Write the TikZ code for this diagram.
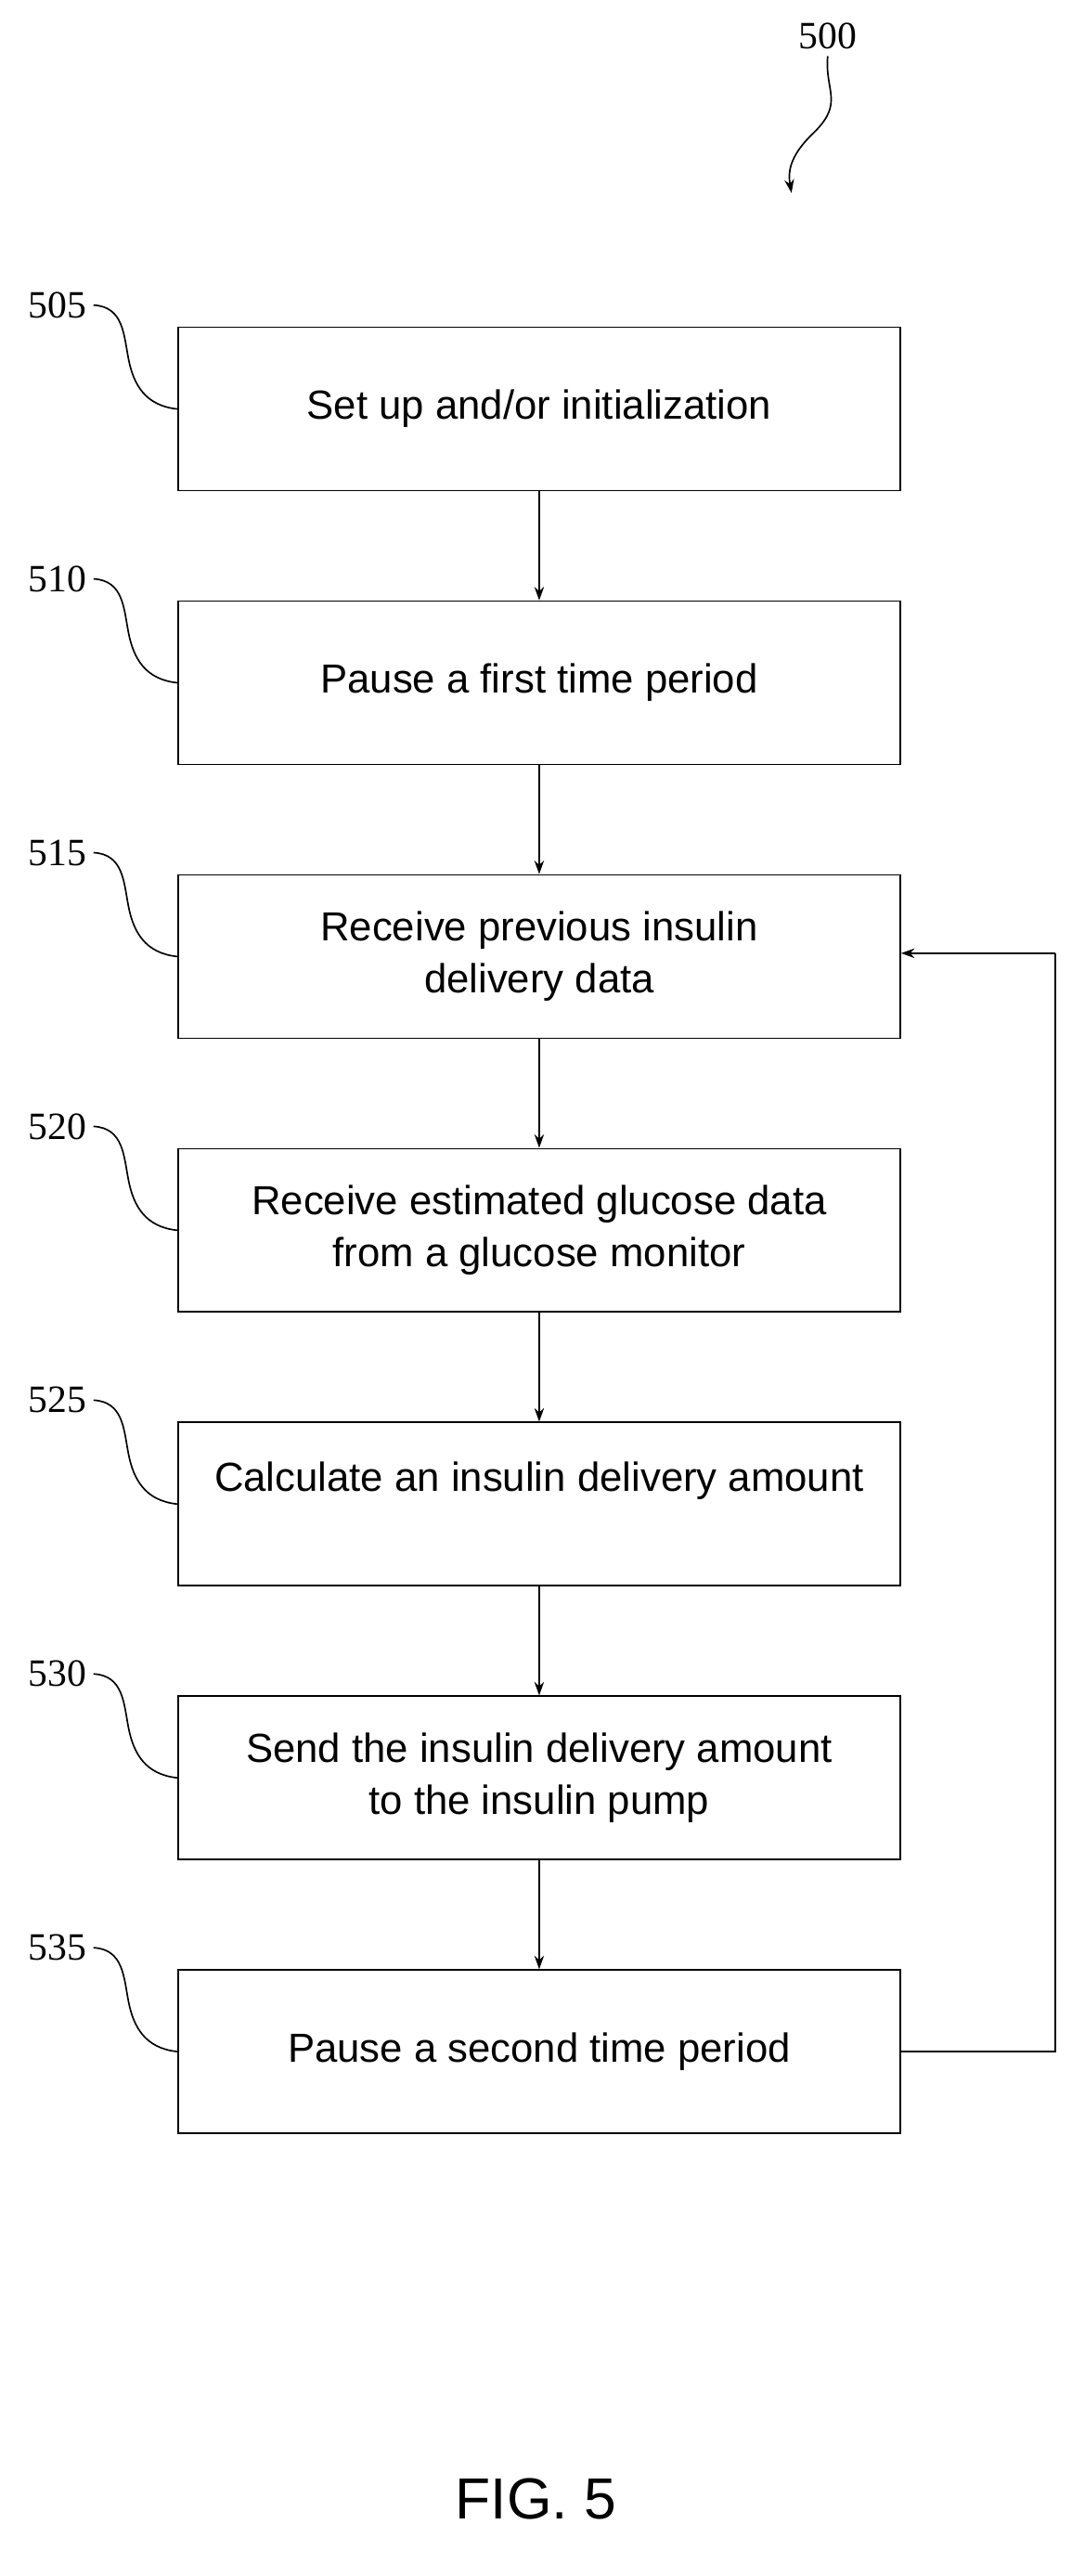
\documentclass[tikz,border=0pt]{standalone}
\usepackage{fontspec}
\setmainfont{Liberation Sans}
\newfontfamily\numfont{Liberation Serif}
\usetikzlibrary{positioning,arrows.meta}

\tikzset{
	stepbox/.style={draw, line width=0.8pt, minimum width=438*0.3mm, minimum height=99*0.3mm,
		align=center, font=\fontsize{21}{27}\selectfont, inner sep=2pt},
	ref/.style={font=\numfont\fontsize{20}{24}\selectfont},
	flow/.style={-{Stealth[length=7pt,width=5pt]}, line width=0.8pt},
	wiggle/.style={line width=0.8pt}
}

\begin{document}
\begin{tikzpicture}[x=0.3mm,y=-0.3mm]

	\useasboundingbox (0,0) rectangle (650,1562);

	% boxes
	\node[stepbox] (b505) at (327,248) {Set up and/or initialization};
	\node[stepbox] (b510) at (327,414) {Pause a first time period};
	\node[stepbox] (b515) at (327,580) {Receive previous insulin\\delivery data};
	\node[stepbox] (b520) at (327,746) {Receive estimated glucose data\\from a glucose monitor};
	\node[stepbox,text depth=28pt] (b525) at (327,912) {Calculate an insulin delivery amount};
	\node[stepbox] (b530) at (327,1078) {Send the insulin delivery amount\\to the insulin pump};
	\node[stepbox] (b535) at (327,1244) {Pause a second time period};

	% reference numerals
	\foreach \k/\y in {505/248,510/414,515/580,520/746,525/912,530/1078,535/1244}
	{
		\node[ref] (l\k) at (35,\y-63) {\k};
		\coordinate (m\k) at (78,\y-30);
		\draw[wiggle] (l\k.east) .. controls (75,\y-62) and (75,\y-45) .. (m\k)
			.. controls (81,\y-15) and (88,\y-2) .. (b\k.west);
	}

	% arrows
	\draw[flow] (b505) -- (b510);
	\draw[flow] (b510) -- (b515);
	\draw[flow] (b515) -- (b520);
	\draw[flow] (b520) -- (b525);
	\draw[flow] (b525) -- (b530);
	\draw[flow] (b530) -- (b535);

	\coordinate (c1) at (640,1244);
	\coordinate (c2) at (640,578);
	\draw[line width=0.8pt] (b535.east) -- (c1) -- (c2);
	\draw[flow] (c2) -- (b515.east |- c2);

	% figure number
	\node[ref] (l500) at (502,22) {500};
	\coordinate (a500) at (480,117);
	\draw[flow] (l500.south) .. controls (500,55) and (512,62) .. (494,80)
		.. controls (478,95) and (478,105) .. (a500);

	\node[font=\fontsize{30}{36}\selectfont] (fig) at (325,1515) {FIG. 5};

\end{tikzpicture}
\end{document}
